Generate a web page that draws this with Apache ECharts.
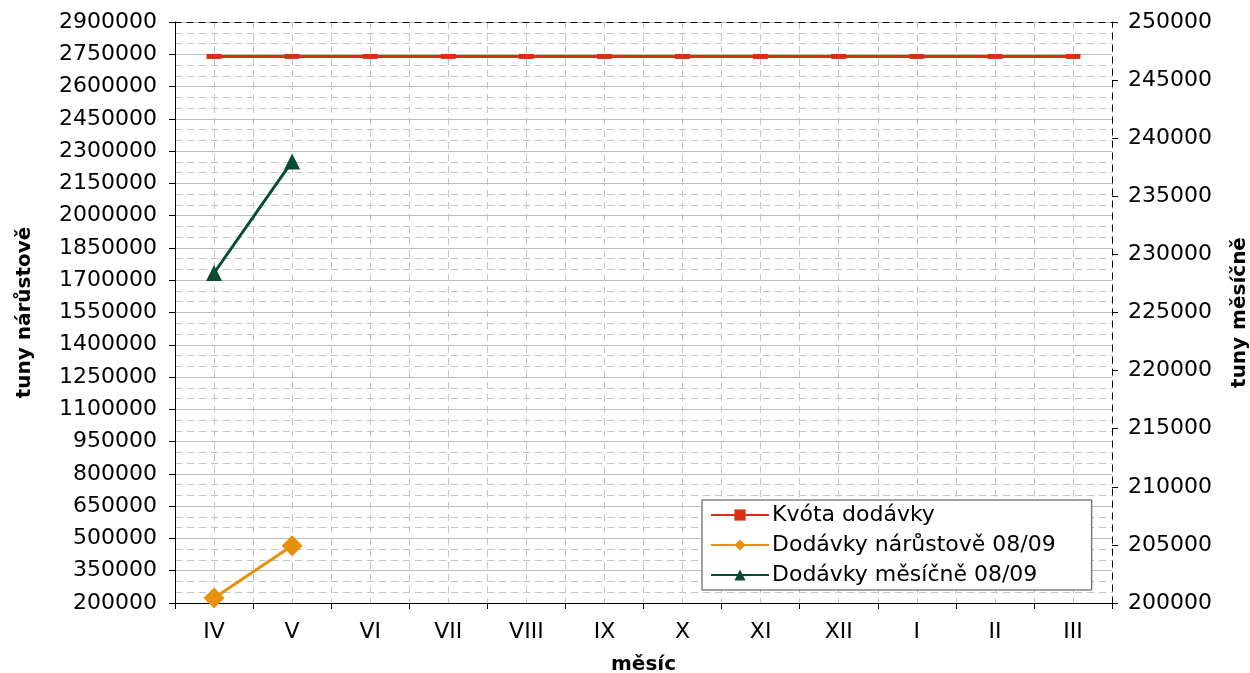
<!DOCTYPE html>
<html>
<head>
<meta charset="utf-8">
<script src="https://cdn.jsdelivr.net/npm/echarts@6/dist/echarts.min.js"></script>
<style>
  html, body { margin: 0; padding: 0; background: #fff; }
  #chart { width: 1250px; height: 673px; }
</style>
</head>
<body>
<div id="chart"></div>
<script>
  // categories (months of the delivery year)
  var months = ['IV', 'V', 'VI', 'VII', 'VIII', 'IX', 'X', 'XI', 'XII', 'I', 'II', 'III']
  // series values
  var kvota = [2740000, 2740000, 2740000, 2740000, 2740000, 2740000, 2740000, 2740000, 2740000, 2740000, 2740000, 2740000]
  var narustove = [223000, 466000, null, null, null, null, null, null, null, null, null, null]
  var mesicne = [228400, 238000, null, null, null, null, null, null, null, null, null, null]
  // half-month slots, only used for the dashed vertical grid
  var halfSlots = []
  for (var i = 0; i < months.length * 2; i++) halfSlots.push('')

  var font = 'DejaVu Sans'
  var plain = function (v) { return String(v) }
  var chart = echarts.init(document.getElementById('chart'))

  chart.setOption({
    animation: false,
    textStyle: { fontFamily: font },
    grid: { left: 175, right: 138, top: 22, bottom: 70, outerBoundsMode: 'none' },
    legend: {
      orient: 'vertical',
      left: 702,
      top: 500,
      padding: [4, 36, 4, 8],
      itemWidth: 58,
      itemHeight: 14,
      itemGap: 8,
      backgroundColor: '#fff',
      borderColor: '#444',
      borderWidth: 1,
      textStyle: { fontFamily: font, fontSize: 22, color: '#000', padding: [0, 0, 0, -2] },
      data: ['Kvóta dodávky', 'Dodávky nárůstově 08/09', 'Dodávky měsíčně 08/09']
    },
    xAxis: [
      {
        type: 'category',
        data: months,
        boundaryGap: true,
        name: 'měsíc',
        nameLocation: 'middle',
        nameGap: 52,
        nameTextStyle: { fontFamily: font, fontSize: 20, fontWeight: 'bold', color: '#000' },
        axisLine: { lineStyle: { color: '#000', width: 1 } },
        axisTick: { show: true, length: 6, lineStyle: { color: '#000' } },
        axisLabel: { fontFamily: font, fontSize: 22, color: '#000', margin: 18 },
        splitLine: { show: false }
      },
      {
        type: 'category',
        data: halfSlots,
        position: 'top',
        boundaryGap: true,
        axisLine: { show: true, lineStyle: { color: '#000', type: [6, 6], width: 1 } },
        axisTick: { show: false },
        axisLabel: { show: false },
        splitLine: { show: true, interval: 0, lineStyle: { color: '#c4c4c4', type: [7, 5] } }
      }
    ],
    yAxis: [
      {
        type: 'value',
        min: 200000,
        max: 2900000,
        interval: 150000,
        name: 'tuny nárůstově',
        nameLocation: 'middle',
        nameGap: 140,
        nameTextStyle: { fontFamily: font, fontSize: 20, fontWeight: 'bold', color: '#000' },
        axisLine: { show: true, lineStyle: { color: '#000' } },
        axisTick: { show: true, length: 6, lineStyle: { color: '#000' } },
        axisLabel: { fontFamily: font, fontSize: 22, color: '#000', margin: 18, formatter: plain },
        splitLine: { show: true, lineStyle: { color: '#bdbdbd', width: 1 } },
        minorTick: { show: false, splitNumber: 3 },
        minorSplitLine: { show: true, lineStyle: { color: '#c4c4c4', type: [7, 5] } }
      },
      {
        type: 'value',
        min: 200000,
        max: 250000,
        interval: 5000,
        position: 'right',
        name: 'tuny měsíčně',
        nameLocation: 'middle',
        nameGap: 118,
        nameTextStyle: { fontFamily: font, fontSize: 20, fontWeight: 'bold', color: '#000' },
        axisLine: { show: true, lineStyle: { color: '#000', type: [6, 6] } },
        axisTick: { show: true, length: 6, lineStyle: { color: '#000' } },
        axisLabel: { fontFamily: font, fontSize: 22, color: '#000', margin: 16, formatter: plain },
        splitLine: { show: false }
      }
    ],
    series: [
      {
        name: 'Kvóta dodávky',
        type: 'line',
        xAxisIndex: 0,
        yAxisIndex: 0,
        data: kvota,
        symbol: 'rect',
        symbolSize: [15, 5],
        itemStyle: { color: '#dc2c14' },
        lineStyle: { color: '#dc2c14', width: 3 },
        z: 3
      },
      {
        name: 'Dodávky nárůstově 08/09',
        type: 'line',
        xAxisIndex: 0,
        yAxisIndex: 0,
        data: narustove,
        symbol: 'diamond',
        symbolSize: 21,
        itemStyle: { color: '#e8900a' },
        lineStyle: { color: '#e8900a', width: 3 },
        z: 4
      },
      {
        name: 'Dodávky měsíčně 08/09',
        type: 'line',
        xAxisIndex: 0,
        yAxisIndex: 1,
        data: mesicne,
        symbol: 'triangle',
        symbolSize: 16,
        itemStyle: { color: '#0a4c32' },
        lineStyle: { color: '#0a4c32', width: 3 },
        z: 4
      }
    ]
  })
</script>
</body>
</html>
